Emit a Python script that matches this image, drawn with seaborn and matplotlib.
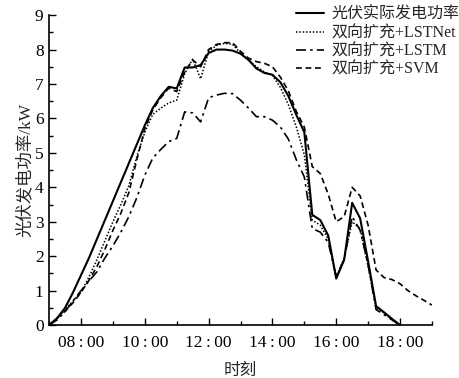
import matplotlib
matplotlib.use("Agg")
import matplotlib.pyplot as plt
from matplotlib.ticker import MultipleLocator
import numpy as np
import pandas as pd
import seaborn as sns

sns.set_style("ticks")
plt.rcParams["font.family"] = ["Liberation Serif", "Noto Sans CJK SC", "DejaVu Sans"]
plt.rcParams["axes.unicode_minus"] = False

# ── data (15-minute samples) ─────────────────────────────────────────────────

times = [
    "07:00", "07:15", "07:30", "07:45", "08:00", "08:15", "08:30", "08:45",
    "09:00", "09:15", "09:30", "09:45", "10:00", "10:15", "10:30", "10:45",
    "11:00", "11:15", "11:30", "11:45", "12:00", "12:15", "12:30", "12:45",
    "13:00", "13:15", "13:30", "13:45", "14:00", "14:15", "14:30", "14:45",
    "15:00", "15:15", "15:30", "15:45", "16:00", "16:15", "16:30", "16:45",
    "17:00", "17:15", "17:30", "17:45", "18:00", "18:15", "18:30", "18:45",
    "19:00",
]

actual = [
    0.00, 0.20, 0.50, 0.95, 1.45, 1.95, 2.50, 3.05,
    3.60, 4.15, 4.70, 5.25, 5.80, 6.30, 6.65, 6.92,
    6.87, 7.48, 7.48, 7.55, 7.90, 8.00, 8.00, 7.97,
    7.88, 7.70, 7.45, 7.32, 7.27, 7.05, 6.65, 6.10,
    5.60, 3.20, 3.05, 2.60, 1.35, 1.90, 3.55, 3.10,
    1.85, 0.55, 0.37, 0.18, 0.00,
]

lstnet = [
    0.00, 0.20, 0.45, 0.70, 0.95, 1.40, 1.90, 2.45,
    3.00, 3.50, 4.05, 4.90, 5.60, 6.12, 6.30, 6.45,
    6.53, 7.30, 7.72, 7.15, 7.95, 8.12, 8.18, 8.15,
    7.90, 7.70, 7.50, 7.35, 7.25, 6.90, 6.40, 5.75,
    4.95, 3.05, 2.90, 2.50, 1.40, 1.95, 3.00, 2.80,
    1.70, 0.50, 0.35, 0.15, 0.00,
]

lstm = [
    0.00, 0.15, 0.39, 0.70, 1.00, 1.28, 1.55, 1.95,
    2.30, 2.70, 3.15, 3.70, 4.35, 4.85, 5.10, 5.33,
    5.42, 6.19, 6.16, 5.90, 6.60, 6.68, 6.73, 6.72,
    6.53, 6.30, 6.05, 6.05, 5.95, 5.75, 5.40, 4.80,
    4.30, 2.80, 2.70, 2.40, 1.40, 1.90, 3.15, 2.75,
    1.75, 0.45, 0.30, 0.15, 0.00,
]

svm = [
    0.00, 0.20, 0.40, 0.65, 0.95, 1.30, 1.70, 2.20,
    2.75, 3.25, 3.85, 4.80, 5.70, 6.25, 6.60, 6.88,
    6.78, 7.35, 7.70, 7.50, 8.00, 8.15, 8.20, 8.20,
    7.95, 7.75, 7.65, 7.60, 7.50, 7.20, 6.80, 6.20,
    5.75, 4.60, 4.40, 3.80, 3.00, 3.15, 4.00, 3.75,
    2.90, 1.60, 1.38, 1.32, 1.20, 1.00, 0.85, 0.72,
    0.58,
]

series = [
    ("光伏实际发电功率", actual, "-", 1.5),
    ("双向扩充+LSTNet", lstnet, (0, (1, 1.2)), 1.1),
    ("双向扩充+LSTM", lstm, (0, (6, 2.5, 1.5, 2.5)), 1.2),
    ("双向扩充+SVM", svm, (0, (3.5, 2.2)), 1.2),
]

xticks = [8, 10, 12, 14, 16, 18]
xticklabels = ["08\u2009:\u200900", "10\u2009:\u200900", "12\u2009:\u200900",
               "14\u2009:\u200900", "16\u2009:\u200900", "18\u2009:\u200900"]


def to_hours(t):
    h, m = t.split(":")
    return int(h) + int(m) / 60


# ── plot ─────────────────────────────────────────────────────────────────────

fig = plt.figure(figsize=(4.59, 3.78), dpi=100)
ax = fig.add_axes([0.107, 0.140, 0.834, 0.820])

for name, vals, ls, lw in series:
    df = pd.DataFrame({"hour": [to_hours(t) for t in times[:len(vals)]],
                       "power": vals})
    sns.lineplot(data=df, x="hour", y="power", ax=ax, color="black",
                 linestyle=ls, linewidth=lw, label=name)

ax.set_xlim(7, 19)
ax.set_ylim(0, 9)
ax.set_xticks(xticks)
ax.set_xticklabels(xticklabels)
ax.xaxis.set_minor_locator(MultipleLocator(1))
ax.yaxis.set_major_locator(MultipleLocator(1))
ax.yaxis.set_minor_locator(MultipleLocator(0.5))
ax.tick_params(which="both", direction="in", labelsize=12.5, width=1,
               colors="black")
ax.tick_params(which="major", length=5, pad=4)
ax.tick_params(axis="x", which="major", pad=7)
ax.tick_params(which="minor", length=3)

for side in ("top", "right"):
    ax.spines[side].set_visible(False)
for side in ("left", "bottom"):
    ax.spines[side].set_linewidth(1.2)
    ax.spines[side].set_color("black")

ax.set_xlabel("时刻", fontsize=12, labelpad=9)
ax.set_ylabel("光伏发电功率/kW", fontsize=12.5, labelpad=1)

ax.legend_.remove()
handles, labels = ax.get_legend_handles_labels()
fig.legend(handles, labels, loc="upper left", bbox_to_anchor=(0.645, 0.982),
           bbox_transform=fig.transFigure, frameon=False, fontsize=11.5,
           borderpad=0, borderaxespad=0, handlelength=1.75,
           handletextpad=0.45, labelspacing=0.15)

plt.savefig("out.png", dpi=100)
plt.close()
